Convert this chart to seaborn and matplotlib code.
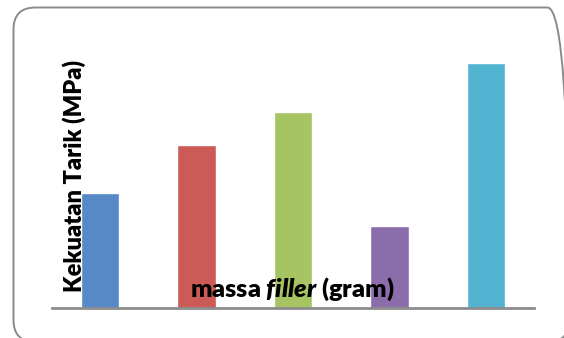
import matplotlib
matplotlib.use("Agg")
import matplotlib.pyplot as plt
from matplotlib.patches import FancyBboxPatch
import seaborn as sns
import pandas as pd

# Tensile strength for each filler mass
filler_mass = ["0", "5", "10", "15", "20"]
tensile_strength = [11.5, 16.3, 19.6, 8.2, 24.5]
bar_colors = ["#5789C8", "#CC5A56", "#A6C462", "#8A6DAA", "#52B4D1"]

df = pd.DataFrame({"massa": filler_mass, "kekuatan": tensile_strength})

sns.set_style("white")
plt.rcParams["font.family"] = ["Lato", "DejaVu Sans"]
plt.rcParams["mathtext.fontset"] = "custom"
plt.rcParams["mathtext.bfit"] = "Lato:italic:heavy"
plt.rcParams["mathtext.rm"] = "Lato:heavy"

W, H = 564, 338
fig = plt.figure(figsize=(W / 100, H / 100), dpi=100)
fig.patch.set_facecolor("white")

# rounded chart frame in figure fractions; mutation_aspect keeps corners circular
frame = FancyBboxPatch((13.5 / W, -4 / H), 556 / W, (H - 7.5 + 4) / H,
                       boxstyle=f"round,pad=0,rounding_size={22 / W}",
                       mutation_aspect=W / H,
                       fill=False, edgecolor="#8A8A8A", linewidth=1.4,
                       transform=fig.transFigure, zorder=0)
fig.add_artist(frame)

ax = fig.add_axes([52 / W, 30 / H, 482 / W, 268 / H], zorder=1)
ax.set_facecolor("none")
sns.barplot(data=df, x="massa", y="kekuatan", hue="massa",
            palette=bar_colors, width=0.4, saturation=1, legend=False, ax=ax)

ax.set_xlim(-0.5, len(filler_mass) - 0.5)
ax.set_ylim(0, 26.8)
ax.set_xticks([])
ax.set_yticks([])
for side in ["top", "right", "left"]:
    ax.spines[side].set_visible(False)
ax.spines["bottom"].set_color("#8C8C8C")
ax.spines["bottom"].set_linewidth(2)
ax.set_xlabel("")
ax.set_ylabel("")

# axis titles drawn over the plot area
fig.text(74 / W, 1 - 176 / H, "Kekuatan Tarik (MPa)", rotation=90,
         ha="center", va="center", fontsize=17, fontweight="heavy",
         color="black", zorder=3)
fig.text(292 / W, 1 - 289 / H, r"massa $\mathbfit{filler}$ (gram)",
         ha="center", va="center", fontsize=18.2, fontweight="heavy",
         color="black", zorder=3)

fig.savefig("out.png", dpi=100, facecolor="white")
